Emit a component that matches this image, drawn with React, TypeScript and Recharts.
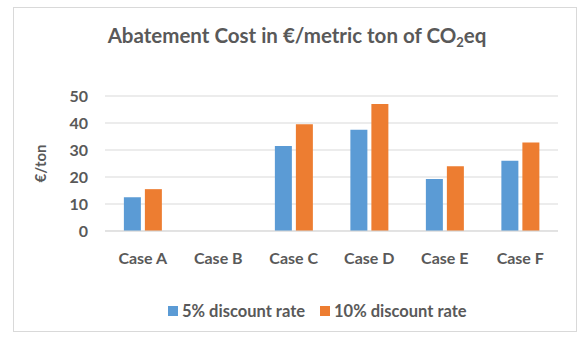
import React from 'react';
import {
  BarChart, Bar, XAxis, YAxis, CartesianGrid, Legend, Label,
} from 'recharts';

const CASOS = ['Case A', 'Case B', 'Case C', 'Case D', 'Case E', 'Case F'];
const TASA_5 = [12.5, 0, 31.5, 37.5, 19.3, 26];
const TASA_10 = [15.5, 0, 39.5, 47, 24, 32.8];
const Y_TICKS = [0, 10, 20, 30, 40, 50];

const SERIE_5 = '5% discount rate';
const SERIE_10 = '10% discount rate';

const AZUL = '#5B9BD5';
const NARANJA = '#ED7D31';
const GRIS = '#595959';
const FUENTE = 'Lato, "Noto Sans", sans-serif';

const datos = CASOS.map((caso, i) => ({
  caso,
  [SERIE_5]: TASA_5[i],
  [SERIE_10]: TASA_10[i],
}));

const LeyendaPropia = () => (
  <div style={{ display: 'flex', paddingLeft: 154, paddingTop: 14, fontFamily: FUENTE, fontWeight: 700, fontSize: 16.5, color: GRIS }}>
    {[{ nombre: SERIE_5, color: AZUL }, { nombre: SERIE_10, color: NARANJA }].map(s => (
      <div key={s.nombre} style={{ display: 'flex', alignItems: 'center', marginRight: 15 }}>
        <span style={{ width: 10, height: 10, background: s.color, marginRight: 4, display: 'inline-block' }} />
        {s.nombre}
      </div>
    ))}
  </div>
);

const App: React.FC = () => {
  return (
    <div style={{ position: 'absolute', left: 13, top: 7, width: 562, height: 323, border: '1px solid #d9d9d9', background: '#fff' }}>
      <div style={{ position: 'absolute', top: 15, left: 0, width: 562, textAlign: 'center', fontFamily: FUENTE, fontWeight: 700, fontSize: 20.5, color: GRIS, paddingLeft: 2 }}>
        Abatement Cost in €/metric ton of CO<sub style={{ fontSize: 13, verticalAlign: -4 }}>2</sub>eq
      </div>
      <BarChart
        width={562}
        height={323}
        data={datos}
        margin={{ top: 88, right: 18, left: 0, bottom: 4 }}
        barCategoryGap="25%"
        barGap={4}
      >
        <CartesianGrid vertical={false} stroke="#d9d9d9" />
        <XAxis
          dataKey="caso"
          height={56}
          tickLine={false}
          axisLine={{ stroke: '#d9d9d9' }}
          tickMargin={16}
          tick={{ fill: GRIS, fontFamily: FUENTE, fontWeight: 700, fontSize: 16 }}
        />
        <YAxis
          width={91}
          domain={[0, 50]}
          ticks={Y_TICKS}
          tickLine={false}
          axisLine={false}
          tickMargin={11}
          tick={{ fill: GRIS, fontFamily: FUENTE, fontWeight: 700, fontSize: 16 }}
        >
          <Label
            value="€/ton"
            angle={-90}
            position="insideLeft"
            offset={27}
            style={{ fill: GRIS, fontFamily: FUENTE, fontWeight: 700, fontSize: 15, textAnchor: 'middle' }}
          />
        </YAxis>
        <Legend verticalAlign="bottom" height={40} content={<LeyendaPropia />} />
        <Bar dataKey={SERIE_5} fill={AZUL} isAnimationActive={false} />
        <Bar dataKey={SERIE_10} fill={NARANJA} isAnimationActive={false} />
      </BarChart>
    </div>
  );
};

export default App;
